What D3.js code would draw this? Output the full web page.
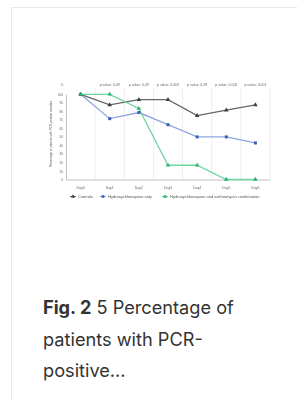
<!DOCTYPE html>
<html>
<head>
<meta charset="utf-8">
<script src="https://cdn.jsdelivr.net/npm/d3@7"></script>
<style>
	body { margin: 0; background: #fff; }
	svg { display: block; }
</style>
</head>
<body>
<script>
// chart data
var days = ["Day0", "Day1", "Day2", "Day3", "Day4", "Day5", "Day6"];
var pLabels = ["p value: 0.49", "p value: 0.49", "p value: 0.003", "p value: 0.28", "p value: 0.002", "p value: 0.001"];
var controlValues = [100, 87.5, 93.8, 93.8, 75, 81.3, 87.5];
var hcqValues = [100, 71.4, 78.6, 64.3, 50, 50, 42.9];
var comboValues = [100, 100, 83.3, 16.7, 16.7, 0, 0];
var yTicks = [0, 10, 20, 30, 40, 50, 60, 70, 80, 90, 100];
var seriesNames = ["Controls", "Hydroxychloroquine only", "Hydroxychloroquine and azithromycin combination"];

var series = [
	{ name: seriesNames[0], values: controlValues, line: "#666", dot: "#3f3f3f", shape: d3.symbolTriangle },
	{ name: seriesNames[1], values: hcqValues, line: "#8ea5dd", dot: "#3d5db8", shape: d3.symbolSquare },
	{ name: seriesNames[2], values: comboValues, line: "#6fd6a0", dot: "#27b36a", shape: d3.symbolTriangle }
];

var svg = d3.select("body")
	.append("svg")
		.attr("width", 297)
		.attr("height", 400);

// card
svg.append("rect")
	.attr("x", 11.5)
	.attr("y", 7.5)
	.attr("width", 400)
	.attr("height", 500)
	.attr("fill", "#fff")
	.attr("stroke", "#e8e8e8");

// soft blur, the figure is a small thumbnail
var defs = svg.append("defs");
defs.append("filter")
	.attr("id", "soft")
	.append("feGaussianBlur")
	.attr("stdDeviation", 0.45);

var chart = svg.append("g")
	.attr("filter", "url(#soft)");

// scales
var x = d3.scaleBand()
	.domain(days)
	.range([66, 270]);

var y = d3.scaleLinear()
	.domain([0, 100])
	.range([179.5, 94.3]);

// vertical separators
chart.selectAll(".sep")
	.data(days.slice(1).concat(["end"]))
	.enter()
	.append("line")
		.attr("x1", function(d) { return d == "end" ? 270 : x(d); })
		.attr("x2", function(d) { return d == "end" ? 270 : x(d); })
		.attr("y1", 88)
		.attr("y2", 179.5)
		.attr("stroke", "#e2e2e2")
		.attr("stroke-width", 0.6);

// p value labels
chart.selectAll(".pval")
	.data(days.slice(1))
	.enter()
	.append("text")
		.attr("x", function(d) { return x(d) + x.bandwidth() / 2; })
		.attr("y", 86)
		.attr("text-anchor", "middle")
		.attr("font-family", "Liberation Sans")
		.attr("font-size", 3.5)
		.attr("fill", "#666")
		.text(function(d, i) { return pLabels[i]; });

// y axis
var yAxis = d3.axisLeft(y)
	.tickValues(yTicks)
	.tickSize(0)
	.tickPadding(3);

var yg = chart.append("g")
	.attr("transform", "translate(66,0)")
	.call(yAxis);
yg.select(".domain").attr("stroke", "#999").attr("stroke-width", 0.6);
yg.selectAll("text")
	.attr("font-family", "Liberation Sans")
	.attr("font-size", 3.2)
	.attr("fill", "#666");

chart.append("text")
	.attr("x", 62)
	.attr("y", 86)
	.attr("text-anchor", "middle")
	.attr("font-family", "Liberation Sans")
	.attr("font-size", 3.2)
	.attr("fill", "#666")
	.text("%");

chart.append("text")
	.attr("transform", "translate(52,134) rotate(-90)")
	.attr("text-anchor", "middle")
	.attr("font-family", "Liberation Sans")
	.attr("font-size", 3)
	.attr("fill", "#666")
	.text("Percentage of patients with PCR-positive samples");

// x axis
var xAxis = d3.axisBottom(x)
	.tickSize(0)
	.tickPadding(7);

var xg = chart.append("g")
	.attr("transform", "translate(0,179.5)")
	.call(xAxis);
xg.select(".domain").attr("stroke", "#999").attr("stroke-width", 0.6);
xg.selectAll("text")
	.attr("font-family", "Liberation Sans")
	.attr("font-size", 3.5)
	.attr("fill", "#666");

// lines
var line = d3.line()
	.x(function(d, i) { return x(days[i]) + x.bandwidth() / 2; })
	.y(function(d) { return y(d); });

series.forEach(function(s) {
	chart.append("path")
		.datum(s.values)
		.attr("d", line)
		.attr("fill", "none")
		.attr("stroke", s.line)
		.attr("stroke-width", 1.3);
});

series.forEach(function(s) {
	chart.selectAll(null)
		.data(s.values)
		.enter()
		.append("path")
			.attr("d", d3.symbol().type(s.shape).size(9))
			.attr("transform", function(d, i) {
				return "translate(" + (x(days[i]) + x.bandwidth() / 2) + "," + y(d) + ")";
			})
			.attr("fill", s.dot);
});

// legend
var legendX = [73, 103, 165];
var legend = chart.selectAll(".legend")
	.data(series)
	.enter()
	.append("g")
		.attr("transform", function(d, i) { return "translate(" + legendX[i] + ",196.5)"; });

legend.append("line")
	.attr("x1", -3)
	.attr("x2", 3)
	.attr("stroke", function(d) { return d.line; })
	.attr("stroke-width", 1);

legend.append("path")
	.attr("d", function(d) { return d3.symbol().type(d.shape).size(7)(); })
	.attr("fill", function(d) { return d.dot; });

legend.append("text")
	.attr("x", 5)
	.attr("y", 1.3)
	.attr("font-family", "Liberation Sans")
	.attr("font-size", 4)
	.attr("fill", "#555")
	.text(function(d) { return d.name; });

// caption
var cap = svg.append("text")
	.attr("font-family", "Inter")
	.attr("font-size", 18.2)
	.attr("fill", "#333");

cap.append("tspan")
	.attr("x", 43)
	.attr("y", 314)
	.attr("font-weight", "bold")
	.text("Fig. 2");
cap.append("tspan")
	.text(" 5 Percentage of");
cap.append("tspan")
	.attr("x", 43)
	.attr("y", 346)
	.text("patients with PCR-");
cap.append("tspan")
	.attr("x", 43)
	.attr("y", 377)
	.text("positive...");
</script>
</body>
</html>
